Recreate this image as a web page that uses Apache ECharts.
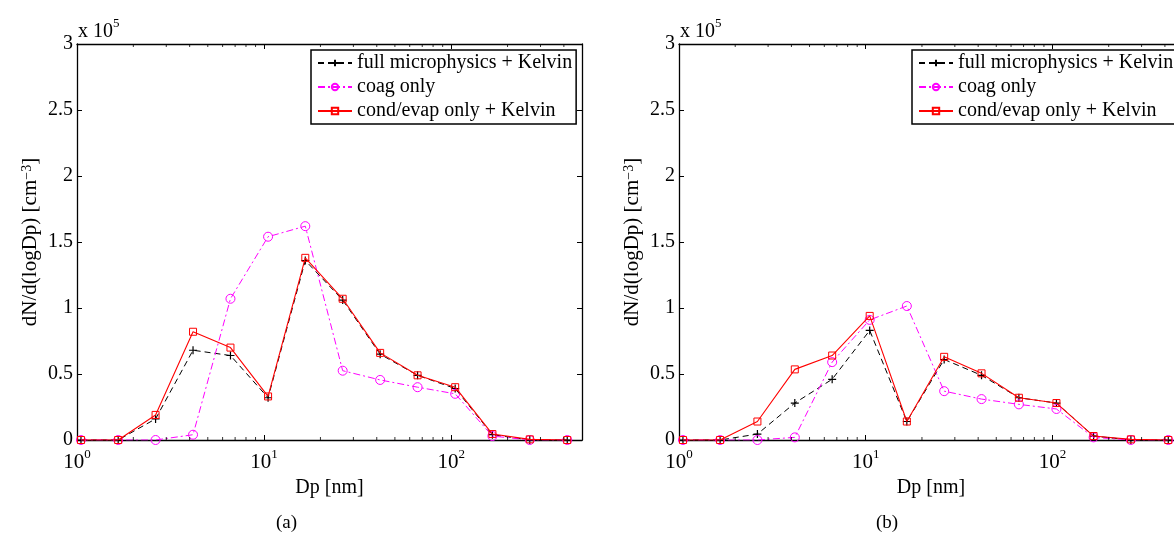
<!DOCTYPE html>
<html>
<head>
<meta charset="utf-8">
<script src="https://cdn.jsdelivr.net/npm/echarts@6/dist/echarts.min.js"></script>
<style>
  html, body { margin: 0; padding: 0; background: #fff; }
  #chart { width: 1174px; height: 540px; }
</style>
</head>
<body>
<div id="chart"></div>
<script>
// Particle diameter bins [nm]
const diameters = [1.05, 1.66, 2.63, 4.17, 6.61, 10.5, 16.6, 26.3, 41.7, 66.1, 105, 166, 263, 417];

// dN/d(logDp) in units of 1e5 cm^-3, case (a)
const fullA = [0, 0, 0.16, 0.68, 0.64, 0.32, 1.36, 1.06, 0.65, 0.49, 0.39, 0.04, 0, 0];
const coagA = [0, 0, 0, 0.04, 1.07, 1.54, 1.62, 0.525, 0.455, 0.40, 0.35, 0.03, 0, 0];
const condA = [0, 0, 0.19, 0.82, 0.70, 0.33, 1.38, 1.07, 0.66, 0.49, 0.40, 0.045, 0.005, 0];

// case (b)
const fullB = [0, 0, 0.045, 0.28, 0.46, 0.83, 0.14, 0.61, 0.49, 0.32, 0.28, 0.03, 0, 0];
const coagB = [0, 0, 0, 0.02, 0.59, 0.91, 1.015, 0.37, 0.31, 0.27, 0.235, 0.02, 0, 0];
const condB = [0, 0, 0.14, 0.535, 0.64, 0.94, 0.14, 0.63, 0.505, 0.32, 0.28, 0.03, 0.005, 0];

// Axis settings
const xMin = 1, xMax = 500;
const yMin = 0, yMax = 3, yStep = 0.5;
const minorTicks = [2, 3, 4, 5, 6, 7, 8, 9, 20, 30, 40, 50, 60, 70, 80, 90, 200, 300, 400];

const seriesNames = ['full microphysics + Kelvin', 'coag only', 'cond/evap only + Kelvin'];
const panelLabels = ['(a)', '(b)'];

const FONT = 'Liberation Serif';

const pair = (ys) => diameters.map((d, i) => [d, ys[i]]);

const grids = [
  { left: 77, right: 592, top: 44, bottom: 100, outerBoundsMode: 'none', containLabel: false },
  { left: 679, right: -9, top: 44, bottom: 100, outerBoundsMode: 'none', containLabel: false }
];

const frameLine = { show: true, onZero: false, lineStyle: { color: '#000', width: 1.3 } };
const majorTick = { show: true, inside: true, length: 5, lineStyle: { color: '#000' } };

function xAxes(gridIndex) {
  return [
    {
      type: 'log', gridIndex, position: 'bottom', min: xMin, max: xMax, logBase: 10,
      axisLine: frameLine,
      axisTick: majorTick,
      splitLine: { show: false },
      axisLabel: {
        margin: 8,
        showMaxLabel: false,
        formatter: (v) => {
          const e = Math.log10(v);
          if (Math.abs(e - Math.round(e)) > 1e-6) return '';
          return '{b|10}{s|' + Math.round(e) + '}';
        },
        rich: {
          b: { fontFamily: FONT, fontSize: 21, color: '#000', lineHeight: 25, verticalAlign: 'bottom' },
          s: { fontFamily: FONT, fontSize: 13, color: '#000', lineHeight: 13, verticalAlign: 'top' }
        }
      },
      name: 'Dp [nm]', nameLocation: 'middle', nameGap: 38,
      nameTextStyle: { fontFamily: FONT, fontSize: 20, color: '#000' }
    },
    {
      type: 'log', gridIndex, position: 'top', min: xMin, max: xMax, logBase: 10,
      axisLine: frameLine,
      axisTick: majorTick,
      axisLabel: { show: false }, splitLine: { show: false }
    }
  ];
}

function yAxes(gridIndex) {
  return [
    {
      type: 'value', gridIndex, position: 'left', min: yMin, max: yMax, interval: yStep,
      axisLine: frameLine,
      axisTick: majorTick,
      splitLine: { show: false },
      axisLabel: { margin: 4, fontFamily: FONT, fontSize: 20, color: '#000' },
      name: 'dN/d(logDp) [cm{s|\u22123}]', nameLocation: 'middle', nameGap: 36,
      nameTextStyle: {
        fontFamily: FONT, fontSize: 21, color: '#000',
        rich: { s: { fontFamily: FONT, fontSize: 14, color: '#000', verticalAlign: 'top', lineHeight: 14 } }
      }
    },
    {
      type: 'value', gridIndex, position: 'right', min: yMin, max: yMax, interval: yStep,
      axisLine: frameLine,
      axisTick: majorTick,
      axisLabel: { show: false }, splitLine: { show: false }
    }
  ];
}

const plusPath = 'path://M5,0L5,10M0,5L10,5';

// Short inward minor ticks of the log axis, placed on the bottom and top edges
function minorTickSeries(xi, yi) {
  const base = {
    type: 'scatter', xAxisIndex: xi, yAxisIndex: yi, silent: true, clip: false,
    symbol: 'rect', symbolSize: [1, 3],
    itemStyle: { color: '#000' }, z: 6
  };
  return [
    Object.assign({}, base, { data: minorTicks.map(v => [v, yMin]), symbolOffset: [0, -1.5] }),
    Object.assign({}, base, { data: minorTicks.map(v => [v, yMax]), symbolOffset: [0, 1.5] })
  ];
}

function panelSeries(p, full, coag, cond) {
  const xi = p * 2, yi = p * 2;
  return [
    ...minorTickSeries(xi, yi),
    {
      name: seriesNames[0], type: 'line', xAxisIndex: xi, yAxisIndex: yi, data: pair(full),
      symbol: plusPath, symbolSize: 8, showAllSymbol: true,
      lineStyle: { color: '#000', width: 1, type: [6, 4] },
      itemStyle: { color: 'rgba(0,0,0,0)', borderColor: '#000', borderWidth: 1.2 },
      z: 3
    },
    {
      name: seriesNames[1], type: 'line', xAxisIndex: xi, yAxisIndex: yi, data: pair(coag),
      symbol: 'circle', symbolSize: 9, showAllSymbol: true,
      lineStyle: { color: '#ff00ff', width: 1, type: [7, 3, 2, 3] },
      itemStyle: { color: 'rgba(0,0,0,0)', borderColor: '#ff00ff', borderWidth: 1 },
      z: 4
    },
    {
      name: seriesNames[2], type: 'line', xAxisIndex: xi, yAxisIndex: yi, data: pair(cond),
      symbol: 'rect', symbolSize: 7, showAllSymbol: true,
      lineStyle: { color: '#ff0000', width: 1.1, type: 'solid' },
      itemStyle: { color: 'rgba(0,0,0,0)', borderColor: '#ff0000', borderWidth: 1 },
      z: 5
    }
  ];
}

function legend(left) {
  return {
    orient: 'vertical', left, top: 50,
    data: seriesNames,
    backgroundColor: '#fff', borderColor: '#000', borderWidth: 1.5, borderRadius: 0,
    padding: [3, 4, 3, 6],
    itemWidth: 34, itemHeight: 8, itemGap: 4,
    textStyle: { fontFamily: FONT, fontSize: 20, color: '#000' },
    selectedMode: false,
    z: 4
  };
}

function exponentLabel(x) {
  return {
    type: 'text', left: x, top: 17,
    style: {
      text: '{b|x 10}{s|5}',
      rich: {
        b: { fontFamily: FONT, fontSize: 20, fill: '#000', lineHeight: 25, verticalAlign: 'bottom' },
        s: { fontFamily: FONT, fontSize: 13, fill: '#000', lineHeight: 13, verticalAlign: 'top' }
      }
    }
  };
}

const option = {
  animation: false,
  backgroundColor: '#fff',
  grid: grids,
  xAxis: [...xAxes(0), ...xAxes(1)],
  yAxis: [...yAxes(0), ...yAxes(1)],
  legend: [legend(311), legend(912)],
  series: [
    ...panelSeries(0, fullA, coagA, condA),
    ...panelSeries(1, fullB, coagB, condB)
  ],
  graphic: [
    exponentLabel(78),
    exponentLabel(680),
    { type: 'text', left: 276, top: 514, style: { text: panelLabels[0], fontFamily: FONT, fontSize: 19, fill: '#000' } },
    { type: 'text', left: 876, top: 514, style: { text: panelLabels[1], fontFamily: FONT, fontSize: 19, fill: '#000' } }
  ]
};

const chart = echarts.init(document.getElementById('chart'), null, { renderer: 'canvas' });
chart.setOption(option);
</script>
</body>
</html>
